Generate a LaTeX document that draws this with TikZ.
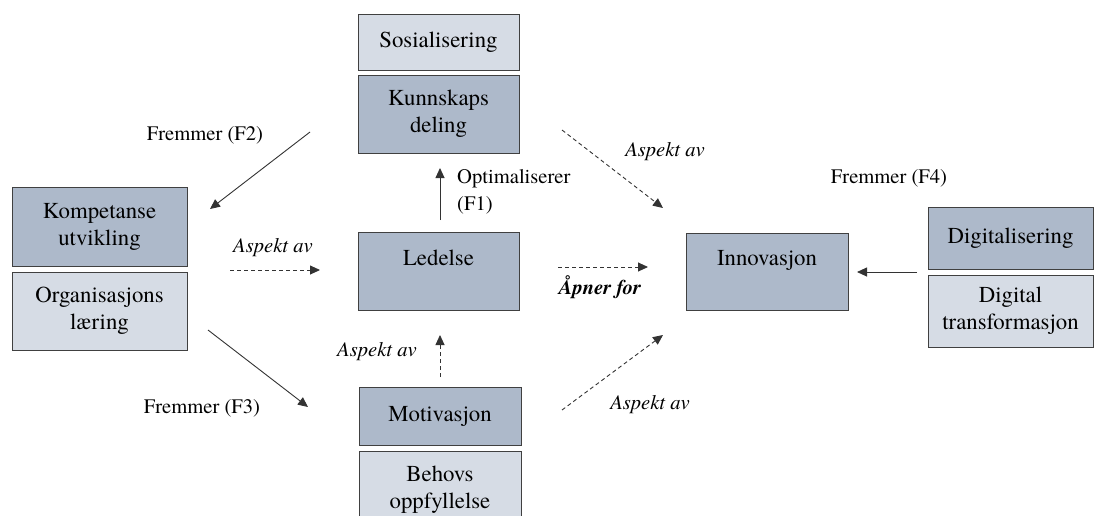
\documentclass[tikz,border=0pt]{standalone}
\usepackage{fontspec}
\setmainfont{TeX Gyre Termes}
\usetikzlibrary{arrows.meta}
\definecolor{boxdark}{HTML}{ADB9CA}
\definecolor{boxlight}{HTML}{D6DCE5}
\definecolor{edge}{HTML}{404040}
\definecolor{wire}{HTML}{333333}

\tikzset{
  panel/.style={draw=edge, line width=0.9pt, align=center, inner sep=0pt,
    font=\fontsize{22.8}{27}\selectfont},
  darkpanel/.style={panel, fill=boxdark},
  lightpanel/.style={panel, fill=boxlight},
  caption/.style={font=\fontsize{20.6}{27}\selectfont, inner sep=0pt},
  relation/.style={draw=wire, line width=0.9pt, -{Triangle[length=10pt,width=9pt]}},
  aspect/.style={relation, dash pattern=on 4pt off 3pt},
}

\begin{document}
\begin{tikzpicture}[x=1pt, y=-1pt]
  \useasboundingbox (0,0) rectangle (1094,515);
  \clip (0,0) rectangle (1094,515);

  % concept boxes
  \node[lightpanel, minimum width=161pt, minimum height=56pt] (soc) at (438.5,42) {Sosialisering};
  \node[darkpanel,  minimum width=161pt, minimum height=78pt] (kd)  at (438.5,114) {Kunnskaps\\deling};
  \node[darkpanel,  minimum width=175pt, minimum height=79pt] (komp) at (99.5,226.5) {Kompetanse\\utvikling};
  \node[lightpanel, minimum width=175pt, minimum height=78pt] (org) at (99.5,311) {Organisasjons\\læring};
  \node[darkpanel,  minimum width=161pt, minimum height=78pt] (led) at (438.5,271) {Ledelse\\\mbox{}};
  \node[darkpanel,  minimum width=162pt, minimum height=77pt] (inn) at (767,271.5) {Innovasjon\\\mbox{}};
  \node[darkpanel,  minimum width=165pt, minimum height=62pt] (dig) at (1010.5,238) {Digitalisering};
  \node[lightpanel, minimum width=165pt, minimum height=72pt] (dt)  at (1010.5,311) {Digital\\transformasjon};
  \node[darkpanel,  minimum width=162pt, minimum height=58pt] (mot) at (440,416) {Motivasjon};
  \node[lightpanel, minimum width=162pt, minimum height=78pt] (beh) at (440,490) {Behovs\\oppfyllelse};

  % connector end points
  \coordinate (f2s) at (310,132);  \coordinate (f2e) at (210,209);
  \coordinate (f3s) at (208,330);  \coordinate (f3e) at (308,407);
  \coordinate (als) at (230,270);  \coordinate (ale) at (320,270);
  \coordinate (f1s) at (440,220);  \coordinate (f1e) at (440,168);
  \coordinate (aps) at (558,267);  \coordinate (ape) at (648,267);
  \coordinate (avs) at (440,377);  \coordinate (ave) at (440,335);
  \coordinate (trs) at (562,130);  \coordinate (tre) at (663,208);
  \coordinate (brs) at (562,410);  \coordinate (bre) at (663,335);
  \coordinate (f4s) at (917,272);  \coordinate (f4e) at (857,272);

  % connectors
  \draw[relation] (f2s) -- (f2e);
  \draw[relation] (f3s) -- (f3e);
  \draw[relation] (f1s) -- (f1e);
  \draw[relation] (f4s) -- (f4e);
  \draw[aspect] (als) -- (ale);
  \draw[aspect] (aps) -- (ape);
  \draw[aspect] (avs) -- (ave);
  \draw[aspect] (trs) -- (tre);
  \draw[aspect] (brs) -- (bre);

  % relation labels
  \node[caption] (lf2) at (205,135) {Fremmer (F2)};
  \node[caption] (lf3) at (202,408) {Fremmer (F3)};
  \node[caption] (lf4) at (889,178) {Fremmer (F4)};
  \node[caption, align=left, anchor=west] (lf1) at (457,191.5) {Optimaliserer\\(F1)};
  \node[caption, font=\fontsize{20.6}{27}\selectfont\itshape] (lal) at (273,248) {Aspekt av};
  \node[caption, font=\fontsize{20.6}{27}\selectfont\itshape] (lav) at (377,352) {Aspekt av};
  \node[caption, font=\fontsize{20.6}{27}\selectfont\itshape] (ltr) at (665,152) {Aspekt av};
  \node[caption, font=\fontsize{20.6}{27}\selectfont\itshape] (lbr) at (650,405) {Aspekt av};
  \node[caption, font=\fontsize{20.6}{27}\selectfont\bfseries\itshape] (lap) at (600,287) {Åpner for};
\end{tikzpicture}
\end{document}
